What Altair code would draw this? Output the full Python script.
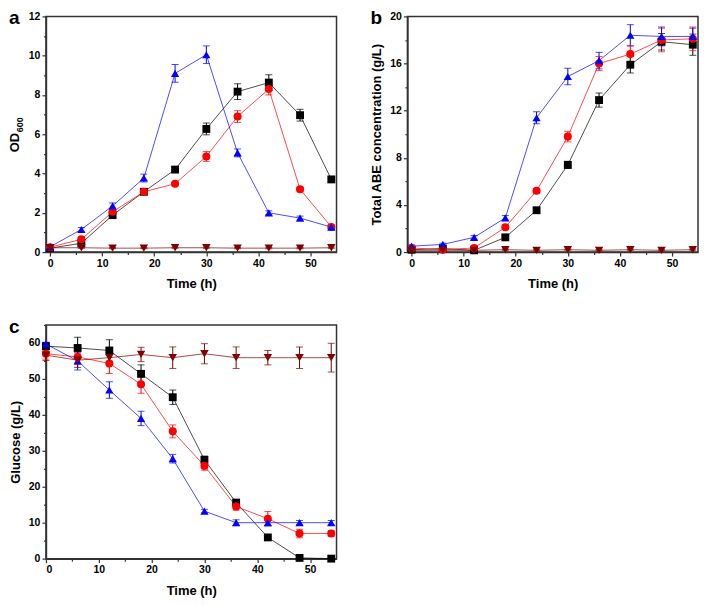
import altair as alt
import pandas as pd

time_h = [0, 6, 12, 18, 24, 30, 36, 42, 48, 54]
series = ["s1", "s2", "s3", "s4"]
marker_colors = ["#000000", "#FF0000", "#0000FF", "#800000"]
marker_shapes = ["square", "circle", "triangle-up", "triangle-down"]
marker_sizes = [62, 72, 120, 120]

# Panel a: OD600
od_s1 = [0.2, 0.45, 1.88, 3.07, 4.2, 6.27, 8.17, 8.63, 6.97, 3.7]
od_s1_err = [0.05, 0.1, 0.1, 0.1, 0.15, 0.3, 0.4, 0.4, 0.3, 0.15]
od_s2 = [0.25, 0.65, 2.05, 3.07, 3.48, 4.87, 6.9, 8.3, 3.2, 1.28]
od_s2_err = [0.05, 0.1, 0.15, 0.1, 0.1, 0.25, 0.3, 0.3, 0.1, 0.1]
od_s3 = [0.27, 1.15, 2.35, 3.77, 9.1, 10.05, 5.05, 2.0, 1.73, 1.27]
od_s3_err = [0.05, 0.1, 0.15, 0.2, 0.45, 0.45, 0.2, 0.1, 0.1, 0.1]
od_s4 = [0.22, 0.22, 0.2, 0.2, 0.22, 0.22, 0.2, 0.2, 0.2, 0.22]
od_s4_err = [0.03] * 10

# Panel b: total ABE (g/L)
abe_s1 = [0.2, 0.3, 0.15, 1.25, 3.55, 7.4, 12.9, 15.9, 17.85, 17.6]
abe_s1_err = [0.1, 0.1, 0.1, 0.15, 0.2, 0.3, 0.6, 0.7, 0.7, 0.9]
abe_s2 = [0.35, 0.2, 0.35, 2.1, 5.2, 9.8, 16.0, 16.8, 18.0, 18.1]
abe_s2_err = [0.1, 0.1, 0.1, 0.2, 0.2, 0.45, 0.6, 0.7, 1.0, 1.0]
abe_s3 = [0.5, 0.65, 1.25, 2.9, 11.4, 14.9, 16.25, 18.4, 18.3, 18.3]
abe_s3_err = [0.1, 0.1, 0.15, 0.2, 0.5, 0.7, 0.7, 0.9, 0.8, 0.7]
abe_s4 = [0.15, 0.15, 0.15, 0.2, 0.15, 0.2, 0.15, 0.2, 0.15, 0.2]
abe_s4_err = [0.05] * 10

# Panel c: glucose (g/L)
glu_s1 = [59.1, 58.6, 57.9, 51.4, 44.9, 27.5, 15.6, 5.9, 0.2, 0.0]
glu_s1_err = [1.0, 3.0, 3.0, 2.5, 2.0, 1.0, 0.5, 0.3, 0.2, 0.2]
glu_s2 = [57.0, 56.1, 54.3, 48.5, 35.4, 25.8, 14.5, 11.1, 7.0, 7.0]
glu_s2_err = [1.5, 2.0, 2.8, 2.5, 1.8, 1.2, 1.0, 2.0, 1.2, 0.8]
glu_s3 = [59.7, 55.0, 46.9, 39.0, 27.8, 13.2, 10.0, 10.0, 10.0, 10.0]
glu_s3_err = [0.5, 2.5, 2.3, 2.0, 1.2, 0.5, 0.8, 0.8, 0.6, 0.6]
glu_s4 = [56.6, 55.2, 55.9, 56.8, 55.9, 57.0, 55.9, 55.9, 55.9, 55.9]
glu_s4_err = [1.5, 2.0, 1.5, 2.0, 3.0, 2.8, 3.0, 2.0, 3.0, 4.0]

x_ticks = [0, 5, 10, 15, 20, 25, 30, 35, 40, 45, 50]


def long_df(vals, errs):
    rows = []
    for s, v, e in zip(series, vals, errs):
        for t, vi, ei in zip(time_h, v, e):
            rows.append({"t": t, "v": vi, "lo": max(vi - ei, 0), "hi": vi + ei, "s": s})
    return pd.DataFrame(rows)


FONT = "Liberation Sans"


def panel(df, ydom, ystep, ymajor, xdom, ytitle, letter, w, h, extra=None):
    xs = alt.Scale(domain=xdom, nice=False, zero=False)
    ys = alt.Scale(domain=ydom, nice=False, zero=False)
    yvals = []
    k = 0
    while k * ystep <= ydom[1] + 1e-9:
        yvals.append(int(round(k * ystep)))
        k += 1
    xaxis = alt.Axis(
        title="Time (h)", values=x_ticks,
        labelExpr="datum.value % 10 === 0 ? datum.label : ''",
        tickSize=alt.ExprRef(expr="datum.value % 10 === 0 ? 4 : 2.5"),
        labelPadding=2, titlePadding=9, labelOverlap=False,
    )
    yaxis = alt.Axis(
        title=ytitle, values=yvals,
        labelExpr=f"datum.value % {ymajor} === 0 ? datum.label : ''",
        tickSize=alt.ExprRef(expr=f"datum.value % {ymajor} === 0 ? 4 : 2.5"),
        labelPadding=2, titlePadding=6, labelOverlap=False,
    )
    color = alt.Color("s:N", scale=alt.Scale(domain=series, range=marker_colors), legend=None)
    base = alt.Chart(df)

    def X():
        return alt.X("t:Q", scale=xs, axis=xaxis)

    def Y(f):
        return alt.Y(f, scale=ys, axis=yaxis)

    line = base.mark_line(strokeWidth=1, opacity=0.7).encode(
        x=X(), y=Y("v:Q"), color=color, detail="s:N")
    rule = base.mark_rule(strokeWidth=1).encode(
        x=X(), y=Y("lo:Q"), y2="hi:Q", color=color)
    cap_lo = base.mark_tick(orient="horizontal", size=7, thickness=1).encode(
        x=X(), y=Y("lo:Q"), color=color)
    cap_hi = base.mark_tick(orient="horizontal", size=7, thickness=1).encode(
        x=X(), y=Y("hi:Q"), color=color)
    pts = base.mark_point(filled=True, opacity=1).encode(
        x=X(), y=Y("v:Q"), color=color,
        shape=alt.Shape("s:N", scale=alt.Scale(domain=series, range=marker_shapes), legend=None),
        size=alt.Size("s:N", scale=alt.Scale(domain=series, range=marker_sizes), legend=None),
    )
    lab = alt.Chart(pd.DataFrame({"l": [letter]})).mark_text(
        fontSize=19, fontWeight="bold", font=FONT, align="left", baseline="alphabetic", color="black"
    ).encode(text="l:N", x=alt.value(-37), y=alt.value(8))
    layers = [line, rule, cap_lo, cap_hi, pts, lab]
    if extra:
        layers += extra
    return alt.layer(*layers).properties(width=w, height=h)


H_A = 236
od_main = alt.Chart(pd.DataFrame({"l": ["OD"]})).mark_text(
    fontSize=13, fontWeight="bold", font=FONT, align="left", baseline="alphabetic", angle=270, color="black"
).encode(text="l:N", x=alt.value(-27), y=alt.value(H_A / 2 + 18))
od_sub = alt.Chart(pd.DataFrame({"l": ["600"]})).mark_text(
    fontSize=9, fontWeight="bold", font=FONT, align="left", baseline="alphabetic", angle=270, color="black"
).encode(text="l:N", x=alt.value(-23), y=alt.value(H_A / 2 - 2))

pa = panel(long_df([od_s1, od_s2, od_s3, od_s4], [od_s1_err, od_s2_err, od_s3_err, od_s4_err]),
           [0, 12], 1, 2, [-0.8, 55], None, "a", 291, H_A, extra=[od_main, od_sub])
pb = panel(long_df([abe_s1, abe_s2, abe_s3, abe_s4], [abe_s1_err, abe_s2_err, abe_s3_err, abe_s4_err]),
           [0, 20], 2, 4, [-0.8, 55], "Total ABE concentration (g/L)", "b", 291, H_A)
pc = panel(long_df([glu_s1, glu_s2, glu_s3, glu_s4], [glu_s1_err, glu_s2_err, glu_s3_err, glu_s4_err]),
           [0, 65], 5, 10, [0, 55], "Glucose (g/L)", "c", 291, 234)

chart = alt.concat(pa, pb, pc, columns=2, spacing={"row": 73, "column": 71}, bounds="flush").properties(
    padding=0
).configure_view(stroke="#333333", strokeWidth=1.5).configure_axis(
    grid=False, labelFont=FONT, titleFont=FONT, labelFontSize=10.5, titleFontSize=13,
    labelFontWeight="bold", titleFontWeight="bold", labelColor="black", titleColor="black",
    domainColor="#333333", domainWidth=1.5, tickColor="#333333", tickWidth=1.2,
)

chart.save("out.html", embed_options={"renderer": "svg", "actions": False})
